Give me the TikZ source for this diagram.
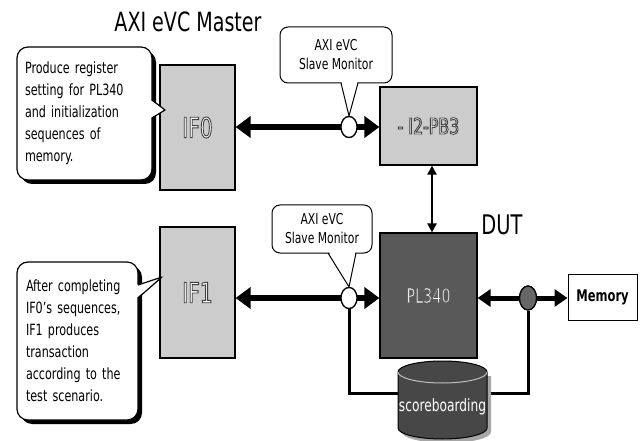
\documentclass[tikz,border=0pt]{standalone}
\usepackage{fontspec}
\setmainfont{DejaVu Sans Condensed}[FakeStretch=0.8]
\usetikzlibrary{arrows.meta,shadows,calc,shapes.geometric}
\newcommand{\hollowtext}[3][0.25]{{\color{white}\special{pdf:literal direct 2 Tr #2 w #1 G}#3\special{pdf:literal direct 0 Tr}}}
\begin{document}
\begin{tikzpicture}[x=1pt,y=-1pt,
  blk/.style={draw, line width=1.2pt, inner sep=0pt},
  lightblk/.style={blk, fill=black!20},
  darkblk/.style={blk, fill=black!65},
  callout/.style={draw, line width=1.2pt, fill=white, rounded corners=11pt,
    drop shadow={shadow xshift=4pt, shadow yshift=-4pt, fill=black, opacity=1},
    align=left, font=\fontsize{15.5}{22}\selectfont, inner ysep=0pt},
  moncallout/.style={draw, line width=1pt, fill=white, rounded corners=8pt,
    align=center, font=\fontsize{15}{19}\selectfont, inner sep=0pt},
  bigarrow/.style={line width=6pt, {Triangle[length=15pt,width=21pt]}-{Triangle[length=15pt,width=21pt]}},
  medarrow/.style={line width=5pt, {Triangle[length=13pt,width=17pt]}-{Triangle[length=13pt,width=17pt]}},
  thinarrow/.style={line width=2.5pt, {Triangle[length=9pt,width=9pt]}-{Triangle[length=9pt,width=9pt]}},
  monitor/.style={ellipse, draw, line width=1.2pt, fill=white, minimum width=16pt, minimum height=21pt, inner sep=0pt},
  tap/.style={ellipse, draw, line width=1.2pt, fill=black!60, minimum width=17pt, minimum height=24pt, inner sep=0pt},
  sbline/.style={line width=3pt},
  title/.style={font=\fontsize{26.5}{26.5}\selectfont}
]
\useasboundingbox (0,0) rectangle (643,441);

% titles
\node[title] (ttl) at (188,22) {AXI eVC Master};
\node[font=\fontsize{27}{27}\selectfont] (dut) at (502,225) {DUT};

% blocks
\node[lightblk, minimum width=75pt, minimum height=125pt] (if0) at (197.5,127.5)
  {\fontsize{28}{28}\selectfont\hollowtext{0.9}{IF0}};
\node[lightblk, minimum width=75pt, minimum height=131pt] (if1) at (197.5,292.5)
  {\fontsize{28}{28}\selectfont\hollowtext{0.9}{IF1}};
\node[lightblk, minimum width=97pt, minimum height=78pt] (i2c) at (428.5,126)
  {\fontsize{22}{22}\selectfont\hollowtext{0.9}{- I2-PB3}};
\node[darkblk, minimum width=97pt, minimum height=125pt] (pl) at (428.5,295.5)
  {\fontsize{20}{20}\selectfont\hollowtext[0.3]{0.45}{PL340}};
\node[blk, line width=1pt, minimum width=69pt, minimum height=46pt, font=\fontsize{16}{16}\selectfont\bfseries] (mem) at (602.5,297) {Memory};

% monitors / taps
\node[monitor] (m1) at (349,127) {};
\node[monitor] (m2) at (349,298) {};
\node[tap] (d1) at (528,298) {};

% scoreboard anchor and connections
\node[minimum width=89pt, minimum height=0pt, inner sep=0pt] (sb) at (442.5,393) {};
\draw[sbline] (m2.south) |- (sb.west);
\draw[sbline] (d1.south) |- (sb.east);

% arrows
\draw[bigarrow] (if0.east |- m1) -- (i2c.west |- m1);
\draw[bigarrow] (if1.east |- m2) -- (pl.west |- m2);
\draw[medarrow] (pl.east |- d1) -- (mem.west |- d1);
\draw[thinarrow] ($(i2c.south)+(3.5,0)$) -- ($(pl.north)+(3.5,0)$);
\node[monitor] at (m1) {};
\node[monitor] at (m2) {};
\node[tap] at (d1) {};

% scoreboarding cylinder
\fill[black!35] (402,376) -- (402,432) arc (180:360:44.5pt and 11pt) -- (491,376) -- cycle;
\filldraw[fill=black!72, draw=black, line width=1pt]
  (398,372) -- (398,428) arc (180:360:44.5pt and 11pt) -- (487,372) arc (0:180:44.5pt and 11pt) -- cycle;
\draw[black!25, line width=1pt] (398,372) arc (180:360:44.5pt and 11pt);
\node[font=\fontsize{17}{17}\selectfont, text=white] (sbt) at (442.5,407) {scoreboarding};

% callouts to the left
\node[callout, text width=119pt, inner xsep=8pt, minimum height=133pt] (c1) at (84.5,113.5)
  {Produce register\\setting for PL340\\and initialization\\sequences of\\memory.};
\fill[white] (150.5,100) -- (165,110) -- (150.5,118) -- cycle;
\draw[line width=1.2pt, line join=round] (152,100) -- (165,110) -- (152,118);

\node[callout, text width=103pt, inner xsep=9pt, minimum height=158pt] (c4) at (77.5,341)
  {After completing\\IF0’s sequences,\\IF1 produces\\transaction\\according to the\\test scenario.};
\fill[white] (136.5,285) -- (162,277) -- (136.5,298) -- cycle;
\draw[line width=1.2pt, line join=round] (138,285) -- (162,277) -- (138,298);

% monitor callouts
\node[moncallout, minimum width=112pt, minimum height=56pt] (mon1) at (336,55)
  {AXI eVC\\Slave Monitor};
\fill[white] (341.5,81.5) -- (m1.north) -- (357.5,81.5) -- cycle;
\draw[line width=1pt] (341,83) -- (m1.north) -- (358,83);

\node[moncallout, minimum width=100pt, minimum height=48pt] (mon2) at (322,229)
  {AXI eVC\\Slave Monitor};
\fill[white] (329,251.5) -- (m2.north) -- (355.5,251.5) -- cycle;
\draw[line width=1pt] (328,253) -- (m2.north) -- (356,253);
\end{tikzpicture}
\end{document}
